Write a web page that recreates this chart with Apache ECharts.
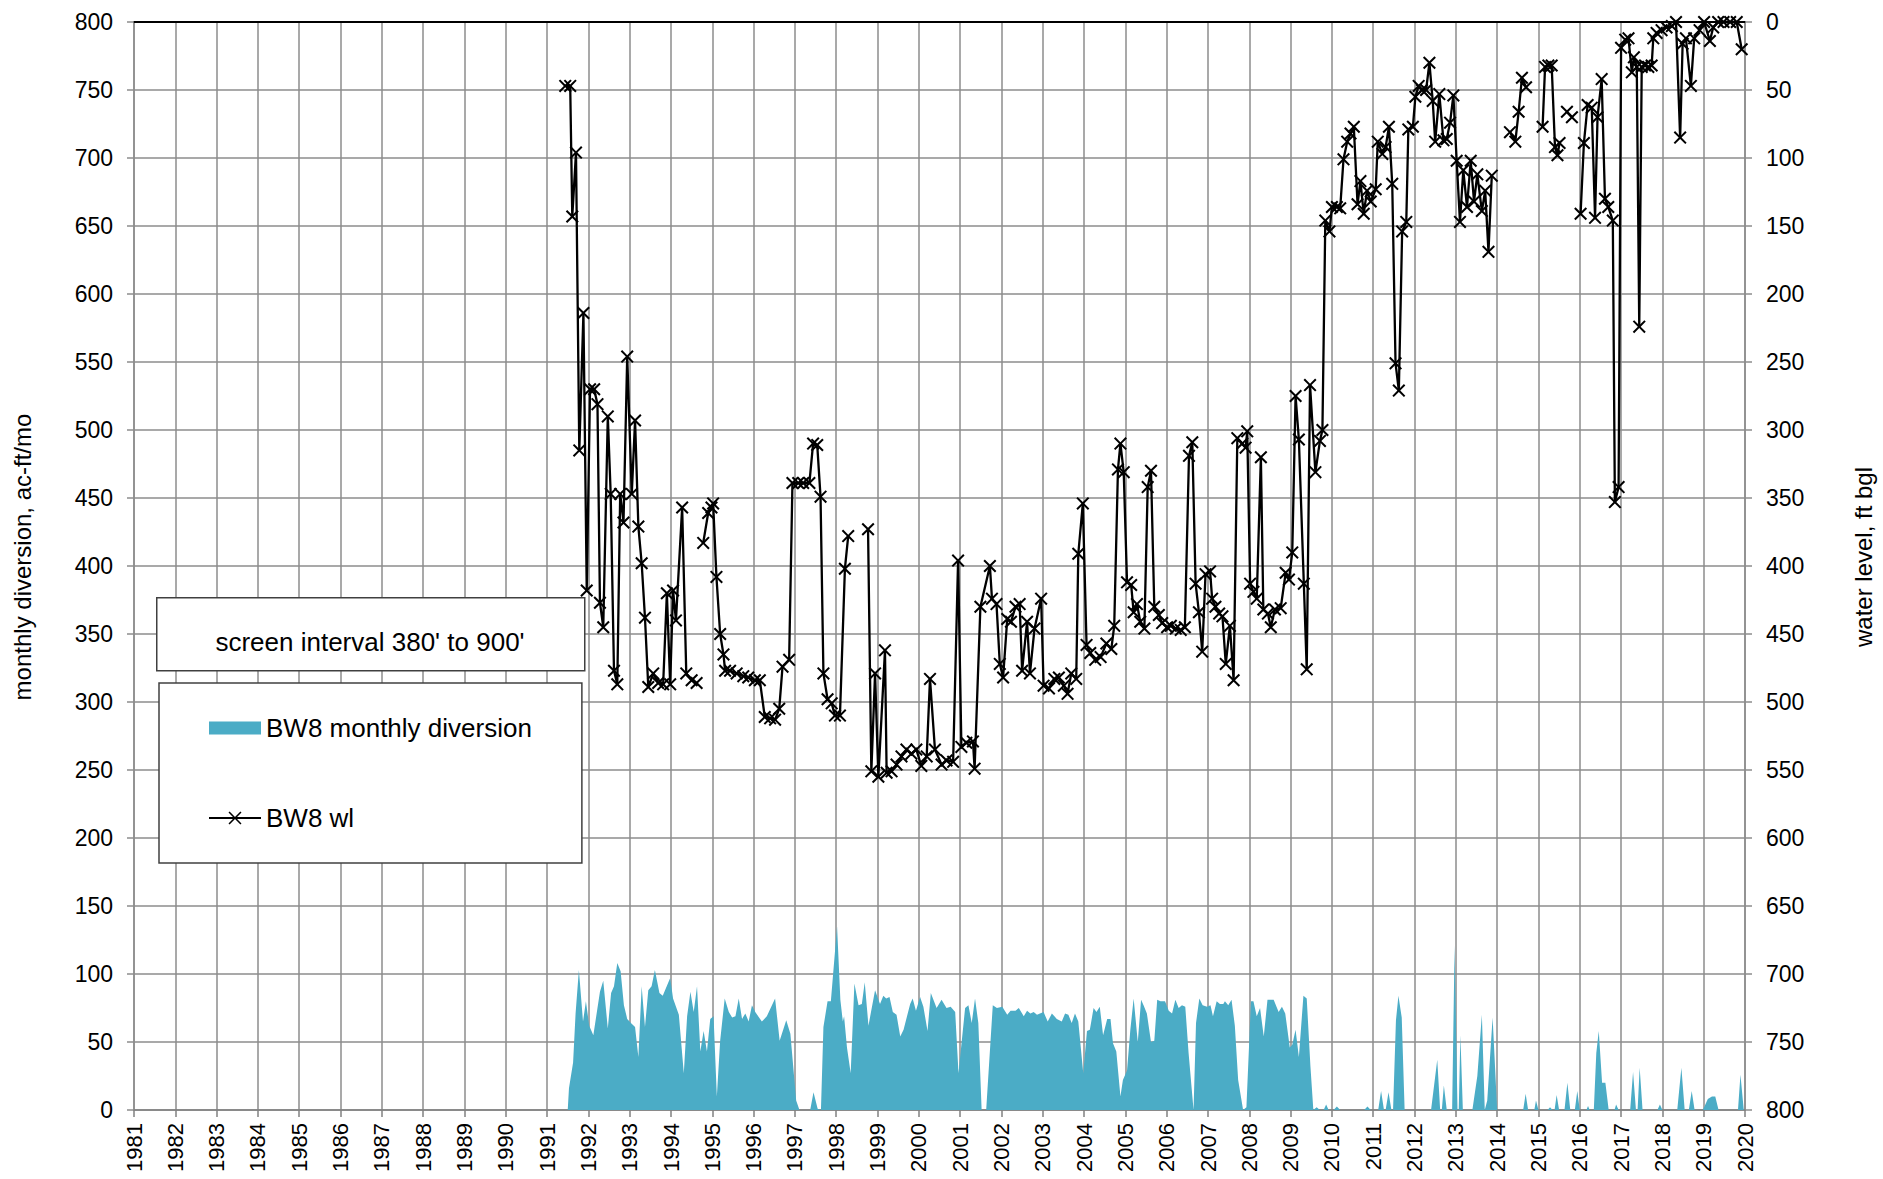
<!DOCTYPE html>
<html>
<head>
<meta charset="utf-8">
<script src="https://cdn.jsdelivr.net/npm/echarts@6/dist/echarts.min.js"></script>
<style>html,body{margin:0;padding:0;background:#fff}#c{width:1883px;height:1179px}</style>
</head>
<body>
<div id="c"></div>
<script>
// ---- tick labels ----
const yearTicks = [];
for (let y = 1981; y <= 2020; y++) yearTicks.push(y);
const leftTicks = [0,50,100,150,200,250,300,350,400,450,500,550,600,650,700,750,800];
const rightTicks = [0,50,100,150,200,250,300,350,400,450,500,550,600,650,700,750,800];

// ---- BW8 monthly diversion (ac-ft/mo) ----
const divDates = [1991.50,1991.53,1991.63,1991.69,1991.77,1991.87,1991.94,1992.02,1992.12,1992.28,1992.36,1992.47,1992.55,1992.62,1992.70,1992.78,1992.86,1992.94,1993.03,1993.13,1993.21,1993.29,1993.37,1993.45,1993.53,1993.61,1993.72,1993.80,1993.98,1994.05,1994.19,1994.31,1994.39,1994.47,1994.55,1994.63,1994.71,1994.79,1994.87,1994.95,1995.03,1995.11,1995.19,1995.30,1995.40,1995.48,1995.56,1995.64,1995.72,1995.80,1995.88,1995.96,1996.04,1996.20,1996.32,1996.52,1996.63,1996.79,1996.89,1997.03,1997.11,1997.37,1997.45,1997.55,1997.63,1997.69,1997.79,1997.87,1998.02,1998.10,1998.16,1998.19,1998.26,1998.35,1998.44,1998.54,1998.62,1998.69,1998.78,1998.94,1999.06,1999.14,1999.21,1999.29,1999.37,1999.46,1999.55,1999.63,1999.79,1999.85,1999.93,2000.03,2000.11,2000.21,2000.29,2000.43,2000.55,2000.67,2000.77,2000.88,2000.96,2001.12,2001.20,2001.28,2001.36,2001.44,2001.52,2001.63,2001.79,2001.89,2002.02,2002.14,2002.22,2002.34,2002.42,2002.54,2002.62,2002.70,2002.78,2002.86,2003.02,2003.12,2003.22,2003.34,2003.46,2003.54,2003.62,2003.70,2003.78,2003.86,2003.98,2004.07,2004.14,2004.23,2004.30,2004.38,2004.46,2004.56,2004.64,2004.70,2004.78,2004.88,2004.94,2005.04,2005.12,2005.20,2005.30,2005.38,2005.44,2005.52,2005.62,2005.70,2005.77,2005.85,2005.96,2006.05,2006.13,2006.21,2006.29,2006.37,2006.45,2006.53,2006.65,2006.71,2006.79,2006.87,2006.98,2007.06,2007.12,2007.21,2007.29,2007.37,2007.41,2007.49,2007.57,2007.65,2007.73,2007.85,2007.93,2008.04,2008.10,2008.18,2008.26,2008.35,2008.44,2008.59,2008.71,2008.79,2008.87,2008.98,2009.04,2009.12,2009.20,2009.31,2009.39,2009.48,2009.55,2009.63,2009.71,2009.80,2009.86,2009.92,2010.04,2010.12,2010.20,2010.78,2010.86,2010.94,2011.12,2011.19,2011.26,2011.30,2011.37,2011.44,2011.48,2011.55,2011.61,2011.69,2011.76,2012.40,2012.55,2012.62,2012.66,2012.71,2012.78,2012.91,2012.97,2013.04,2013.07,2013.11,2013.17,2013.40,2013.52,2013.63,2013.70,2013.76,2013.89,2014.00,2014.63,2014.69,2014.75,2014.90,2014.94,2015.00,2015.22,2015.28,2015.34,2015.39,2015.44,2015.50,2015.63,2015.70,2015.77,2015.88,2015.94,2016.00,2016.16,2016.20,2016.24,2016.34,2016.40,2016.46,2016.54,2016.62,2016.70,2016.84,2016.88,2016.94,2017.22,2017.29,2017.36,2017.40,2017.45,2017.52,2017.88,2017.94,2018.00,2018.36,2018.46,2018.54,2018.64,2018.71,2018.78,2018.98,2019.10,2019.20,2019.28,2019.36,2019.83,2019.89,2019.97];
const divValues = [0,16,35,71,103,65,80,62,55,87,95,60,86,91,108,102,77,67,64,61,39,91,61,88,91,103,86,84,97,82,70,27,69,87,72,91,43,58,43,67,69,10,51,82,72,68,69,82,67,71,65,77,72,65,69,82,51,66,56,7,0,0,13,1,0,61,80,80,135,81,65,69,46,27,93,77,78,94,62,88,78,84,82,83,72,70,54,59,78,82,73,83,76,58,86,75,81,75,76,72,27,75,77,64,82,64,0,0,77,75,76,70,73,73,75,69,73,71,72,70,72,65,71,67,65,71,70,64,71,65,27,58,59,75,72,76,55,67,67,49,43,10,22,29,59,82,50,81,77,71,50,51,81,80,80,73,71,81,75,77,76,42,0,64,82,77,76,77,69,80,78,78,80,77,81,62,22,0,2,80,80,69,75,54,81,81,72,76,71,46,48,59,39,84,82,32,0,2,0,0,4,0,0,2.5,0,0,2.5,0,0,14,0,0,13,0,0,66,84,68,0,0,37,0,0,18,0,0,121,0,0,55,0,0,25,70,0,7,68,0,0,12,0,0,7,0,0,2,0,0,11,0,0,20,0,0,14,0,0,3,0,0,42,58,20,20,0,0,4,0,0,28,0,0,31,0,0,4,0,0,31,0,0,14,0,0,8,10,10,0,0,26,0];

// ---- BW8 water level (ft bgl); null = gap ----
const wlDates = [1991.44,1991.56,1991.61,1991.70,1991.78,1991.88,1991.96,1992.04,1992.14,1992.22,1992.28,1992.36,1992.47,1992.54,1992.62,1992.70,1992.77,1992.85,1992.94,1993.05,1993.13,1993.21,1993.29,1993.37,1993.45,1993.57,1993.69,1993.81,1993.90,1993.98,1994.05,1994.12,1994.27,1994.37,1994.50,1994.62,1994.70,1994.78,1994.90,1994.98,1995.02,1995.10,1995.19,1995.27,1995.31,1995.43,1995.59,1995.75,1995.87,1996.03,1996.15,1996.27,1996.40,1996.52,1996.62,1996.70,1996.86,1996.94,1997.08,1997.20,1997.35,1997.44,1997.54,1997.62,1997.69,1997.79,1997.89,1997.97,1998.09,1998.21,1998.29,1998.50,1998.77,1998.85,1998.94,1999.02,1999.18,1999.22,1999.34,1999.46,1999.58,1999.70,1999.82,1999.94,2000.06,2000.19,2000.27,2000.39,2000.55,2000.67,2000.83,2000.95,2001.03,2001.15,2001.31,2001.35,2001.49,2001.72,2001.77,2001.88,2001.96,2002.04,2002.14,2002.23,2002.34,2002.44,2002.50,2002.62,2002.69,2002.80,2002.96,2003.02,2003.15,2003.28,2003.39,2003.51,2003.60,2003.69,2003.81,2003.86,2003.97,2004.06,2004.15,2004.27,2004.40,2004.54,2004.66,2004.73,2004.82,2004.88,2004.96,2005.04,2005.14,2005.20,2005.28,2005.36,2005.46,2005.54,2005.62,2005.70,2005.81,2005.89,2006.01,2006.10,2006.22,2006.34,2006.44,2006.54,2006.62,2006.70,2006.78,2006.86,2006.94,2007.05,2007.10,2007.18,2007.27,2007.35,2007.43,2007.53,2007.62,2007.71,2007.83,2007.91,2007.95,2008.02,2008.10,2008.18,2008.28,2008.34,2008.45,2008.52,2008.62,2008.76,2008.88,2008.96,2009.04,2009.12,2009.20,2009.32,2009.39,2009.47,2009.60,2009.71,2009.77,2009.84,2009.94,2010.00,2010.12,2010.20,2010.28,2010.37,2010.45,2010.53,2010.62,2010.69,2010.77,2010.85,2010.94,2011.06,2011.11,2011.22,2011.30,2011.38,2011.46,2011.54,2011.62,2011.70,2011.80,2011.85,2011.96,2012.02,2012.10,2012.18,2012.28,2012.36,2012.44,2012.50,2012.60,2012.70,2012.78,2012.86,2012.94,2013.02,2013.10,2013.18,2013.27,2013.36,2013.44,2013.52,2013.63,2013.71,2013.79,2013.87,2014.10,2014.31,2014.44,2014.52,2014.60,2014.70,2014.90,2015.10,2015.16,2015.24,2015.32,2015.40,2015.46,2015.51,2015.60,2015.69,2015.81,2015.90,2016.02,2016.10,2016.19,2016.29,2016.37,2016.43,2016.53,2016.61,2016.69,2016.80,2016.85,2016.94,2017.00,2017.10,2017.18,2017.26,2017.31,2017.38,2017.44,2017.50,2017.58,2017.66,2017.74,2017.78,2017.86,2017.98,2018.10,2018.23,2018.33,2018.43,2018.49,2018.57,2018.69,2018.77,2018.90,2019.01,2019.15,2019.23,2019.35,2019.48,2019.64,2019.80,2019.92];
const wlValues = [47,47,143,96,315,214,418,270,270,281,427,445,290,347,477,487,347,368,246,347,293,371,398,438,489,479,486,487,420,487,418,440,357,479,484,486,null,383,361,357,354,408,450,465,477,477,479,481,482,484,484,511,512,513,505,474,469,339,339,339,339,310,311,349,479,498,501,510,510,402,378,null,373,551,479,555,462,552,551,546,540,535,538,535,547,540,483,535,546,543,544,396,533,530,529,549,430,400,424,428,472,482,439,441,430,428,477,441,479,446,424,488,490,483,482,488,494,479,483,391,354,458,464,469,467,457,461,444,329,310,331,412,414,434,428,441,446,342,330,430,436,442,445,444,446,447,445,319,309,413,434,463,406,404,424,430,435,437,472,444,484,306,310,313,301,413,419,424,320,432,435,445,432,431,405,410,390,275,307,413,476,267,331,308,300,146,154,136,136,137,101,88,82,77,134,117,141,124,132,123,88,97,92,77,119,251,271,154,147,79,77,55,47,50,50,30,58,88,53,87,86,74,54,102,147,109,136,102,132,112,139,124,169,113,null,81,88,66,41,48,null,77,33,32,32,92,98,89,null,66,70,null,141,89,61,63,144,70,42,130,136,146,353,342,19,13,12,37,26,33,224,33,32,33,32,12,8,6,4,3,0,85,16,12,47,12,6,0,14,4,0,0,0,0,20];

const FONT = "'Liberation Sans', Arial, sans-serif";
const GRID = '#8c8c8c';

const divData = divDates.map((d, i) => [d, divValues[i]]);
const wlData = wlDates.map((d, i) => [d, wlValues[i] === null ? '-' : wlValues[i]]);

const X_PATH = 'path://M0,1.1L1.1,0L5,3.9L8.9,0L10,1.1L6.1,5L10,8.9L8.9,10L5,6.1L1.1,10L0,8.9L3.9,5Z';
const LEGEND_WL_ICON = 'path://M0,5.6L52,5.6L52,7.4L0,7.4Z M19.5,1.1L20.6,0L26,5.4L31.4,0L32.5,1.1L27.1,6.5L32.5,11.9L31.4,13L26,7.6L20.6,13L19.5,11.9L24.9,6.5Z';

const chart = echarts.init(document.getElementById('c'), null, {renderer: 'svg'});
chart.setOption({
  animation: false,
  backgroundColor: '#fff',
  textStyle: {fontFamily: FONT, color: '#000'},
  grid: {left: 134, right: 136, top: 22, bottom: 69, containLabel: false},
  xAxis: [{
    type: 'value', min: yearTicks[0], max: yearTicks[yearTicks.length - 1], interval: 1,
    axisLine: {show: true, onZero: false, lineStyle: {color: '#808080', width: 1.5}},
    axisTick: {show: true, length: 7, inside: false, lineStyle: {color: '#808080', width: 1.5}},
    axisLabel: {rotate: 90, margin: 13, fontSize: 22, color: '#000', fontFamily: FONT,
      showMinLabel: true, showMaxLabel: true, formatter: v => String(Math.round(v))},
    splitLine: {show: true, lineStyle: {color: GRID, width: 1.5}}
  }, {
    type: 'value', position: 'top', min: yearTicks[0], max: yearTicks[yearTicks.length - 1],
    axisLine: {show: true, onZero: false, lineStyle: {color: '#000', width: 2}},
    axisTick: {show: false}, axisLabel: {show: false}, splitLine: {show: false}
  }],
  yAxis: [{
    type: 'value', min: leftTicks[0], max: leftTicks[leftTicks.length - 1], interval: 50,
    name: 'monthly diversion, ac-ft/mo', nameLocation: 'middle', nameRotate: 90, nameGap: 100,
    nameTextStyle: {fontSize: 24, color: '#000', fontFamily: FONT, padding: [0, 0, 0, 18]},
    axisLine: {show: true, lineStyle: {color: GRID, width: 1.5}},
    axisTick: {show: true, length: 7, lineStyle: {color: GRID, width: 1.5}},
    axisLabel: {margin: 21, fontSize: 23, color: '#000', fontFamily: FONT},
    splitLine: {show: true, lineStyle: {color: GRID, width: 1.5}}
  }, {
    type: 'value', min: rightTicks[0], max: rightTicks[rightTicks.length - 1], interval: 50, inverse: true,
    position: 'right',
    name: 'water level, ft bgl', nameLocation: 'middle', nameRotate: 90, nameGap: 106,
    nameTextStyle: {fontSize: 24, color: '#000', fontFamily: FONT, padding: [0, 0, 0, 18]},
    axisLine: {show: true, lineStyle: {color: GRID, width: 1.5}},
    axisTick: {show: true, length: 7, lineStyle: {color: GRID, width: 1.5}},
    axisLabel: {margin: 21, fontSize: 23, color: '#000', fontFamily: FONT},
    splitLine: {show: false}
  }],
  legend: {
    orient: 'vertical', left: 159, top: 683,
    padding: [32, 50, 32, 50], itemGap: 64,
    itemWidth: 52, itemHeight: 13,
    backgroundColor: '#fff', borderColor: '#404040', borderWidth: 1.5,
    textStyle: {fontSize: 26, color: '#000', fontFamily: FONT},
    data: [{name: 'BW8 monthly diversion', icon: 'rect'}, {name: 'BW8 wl', icon: LEGEND_WL_ICON}]
  },
  graphic: [{
    type: 'rect', left: 156, top: 597, z: 100, zlevel: 0,
    shape: {x: 0, y: 0, width: 428, height: 73},
    style: {fill: '#fff', stroke: '#404040', lineWidth: 1.5}
  }, {
    type: 'text', z: 101, zlevel: 0,
    x: 370, y: 642,
    style: {text: "screen interval 380' to 900'", fontSize: 26, fontFamily: FONT, fill: '#000',
      textAlign: 'center', textVerticalAlign: 'middle'}
  }],
  series: [{
    type: 'line', name: 'BW8 monthly diversion', xAxisIndex: 0, yAxisIndex: 0,
    data: divData, symbol: 'none', showSymbol: false,
    lineStyle: {width: 0, color: '#4BACC6'}, itemStyle: {color: '#4BACC6'},
    areaStyle: {color: '#4BACC6', opacity: 1}, z: 1, silent: true
  }, {
    type: 'line', name: 'BW8 wl', xAxisIndex: 0, yAxisIndex: 1,
    data: wlData, connectNulls: false,
    symbol: X_PATH, symbolSize: 13, showSymbol: true, showAllSymbol: true,
    lineStyle: {color: '#000', width: 2.3}, itemStyle: {color: '#000', borderWidth: 0},
    z: 3, silent: true
  }]
});
</script>
</body>
</html>
